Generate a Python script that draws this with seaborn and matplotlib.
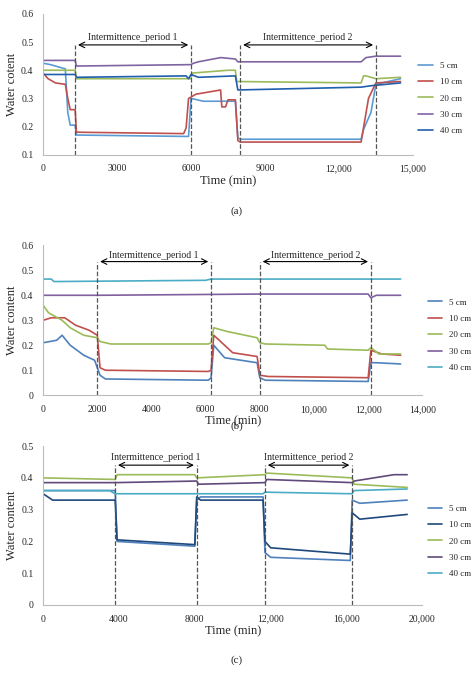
import numpy as np
import pandas as pd
import matplotlib
matplotlib.use("Agg")
import matplotlib.pyplot as plt
import seaborn as sns

depths = ["5 cm", "10 cm", "20 cm", "30 cm", "40 cm"]

# panel (a)
a_t = {
    "5 cm": [0, 300, 900, 1000, 1100, 1300, 1350, 5800, 5900, 6000, 6500, 7500, 7800, 7900, 8000, 12900, 13000, 13300, 13500, 14500],
    "10 cm": [0, 200, 500, 900, 1000, 1100, 1300, 1350, 5700, 5800, 5900, 6000, 6200, 7200, 7250, 7400, 7500, 7800, 7900, 8000, 12900, 13200, 13500, 14500],
    "20 cm": [0, 1300, 1350, 6000, 6050, 7500, 7800, 7850, 12900, 13000, 13100, 13500, 14500],
    "30 cm": [0, 1300, 1350, 6000, 6100, 6300, 7200, 7800, 7900, 12900, 13100, 13500, 14500],
    "40 cm": [0, 1300, 1350, 5800, 5900, 6000, 6300, 7800, 7900, 12900, 13300, 14500],
}
a_v = {
    "5 cm": [0.425, 0.42, 0.405, 0.25, 0.205, 0.205, 0.17, 0.165, 0.165, 0.30, 0.29, 0.29, 0.29, 0.16, 0.155, 0.155, 0.19, 0.25, 0.35, 0.37],
    "10 cm": [0.39, 0.37, 0.355, 0.35, 0.30, 0.26, 0.26, 0.18, 0.175, 0.195, 0.30, 0.305, 0.315, 0.33, 0.27, 0.27, 0.295, 0.295, 0.15, 0.145, 0.145, 0.30, 0.355, 0.36],
    "20 cm": [0.40, 0.40, 0.37, 0.37, 0.39, 0.40, 0.40, 0.36, 0.355, 0.38, 0.38, 0.37, 0.375],
    "30 cm": [0.435, 0.435, 0.415, 0.42, 0.425, 0.43, 0.445, 0.44, 0.43, 0.43, 0.445, 0.45, 0.45],
    "40 cm": [0.385, 0.385, 0.375, 0.38, 0.37, 0.385, 0.375, 0.38, 0.33, 0.34, 0.345, 0.355],
}
a_periods = [(1300, 6000), (8000, 13500)]

# panel (b)
b_t = {
    "5 cm": [0, 500, 700, 1000, 1500, 1900, 2100, 2300, 6100, 6200, 6300, 6700, 7900, 8000, 8200, 12000, 12100, 12300, 13200],
    "10 cm": [0, 300, 800, 1200, 1700, 2000, 2100, 2300, 6100, 6200, 6300, 7000, 7900, 8000, 8300, 12000, 12100, 12500, 13200],
    "20 cm": [0, 200, 700, 1000, 1500, 2000, 2100, 2500, 6100, 6200, 6300, 6800, 7900, 8000, 8200, 10400, 10500, 12000, 12100, 12400, 13200],
    "30 cm": [0, 1000, 2000, 8000, 12000, 12100, 12300, 13200],
    "40 cm": [0, 300, 400, 6000, 6200, 13200],
}
b_v = {
    "5 cm": [0.21, 0.22, 0.24, 0.20, 0.16, 0.14, 0.08, 0.065, 0.06, 0.07, 0.20, 0.15, 0.13, 0.07, 0.06, 0.055, 0.13, 0.13, 0.125],
    "10 cm": [0.30, 0.31, 0.31, 0.28, 0.26, 0.24, 0.11, 0.10, 0.095, 0.10, 0.24, 0.17, 0.155, 0.08, 0.075, 0.07, 0.18, 0.165, 0.16],
    "20 cm": [0.36, 0.33, 0.30, 0.27, 0.24, 0.23, 0.215, 0.205, 0.205, 0.21, 0.27, 0.255, 0.23, 0.21, 0.205, 0.20, 0.185, 0.18, 0.19, 0.165, 0.165],
    "30 cm": [0.40, 0.40, 0.40, 0.405, 0.405, 0.39, 0.40, 0.40],
    "40 cm": [0.465, 0.465, 0.455, 0.46, 0.465, 0.465],
}
b_periods = [(2000, 6200), (8000, 12100)]

# panel (c)
c_t = {
    "5 cm": [0, 3800, 3900, 8000, 8100, 8300, 11600, 11700, 12000, 16200, 16300, 16700, 19200],
    "10 cm": [0, 500, 3800, 3900, 8000, 8100, 8300, 11600, 11700, 12000, 16200, 16300, 16700, 19200],
    "20 cm": [0, 3800, 3900, 8000, 8100, 11700, 11800, 16300, 16400, 19200],
    "30 cm": [0, 3800, 8100, 8200, 11700, 11800, 16300, 16400, 18500, 19200],
    "40 cm": [0, 3500, 3800, 11600, 11700, 16300, 16400, 19200],
}
c_v = {
    "5 cm": [0.36, 0.36, 0.20, 0.185, 0.33, 0.34, 0.34, 0.165, 0.15, 0.14, 0.33, 0.32, 0.33],
    "10 cm": [0.35, 0.33, 0.33, 0.205, 0.19, 0.34, 0.33, 0.33, 0.20, 0.18, 0.16, 0.29, 0.27, 0.285],
    "20 cm": [0.40, 0.395, 0.41, 0.41, 0.40, 0.41, 0.415, 0.40, 0.38, 0.37],
    "30 cm": [0.385, 0.385, 0.39, 0.38, 0.385, 0.395, 0.385, 0.39, 0.41, 0.41],
    "40 cm": [0.36, 0.36, 0.35, 0.35, 0.355, 0.35, 0.36, 0.365],
}
c_periods = [(3800, 8100), (11700, 16300)]

pal_a = ["#5B9BD5", "#C0504D", "#9BBB59", "#8064A2", "#1F5FAD"]
pal_b = ["#4F81BD", "#C0504D", "#9BBB59", "#7F5FA0", "#4BACC6"]
pal_c = ["#4F81BD", "#1F497D", "#9BBB59", "#604A7B", "#4BACC6"]

sns.set_style("white")
plt.rcParams["font.family"] = ["Liberation Serif", "DejaVu Serif"]

fig = plt.figure(figsize=(4.74, 6.97), dpi=100)


def panel(rect, ts, vs, pal, periods, xmax, xticks, xlabels, ymax, yticks,
          arrow_y, text_y, tag, tag_y, ylabel):
    ax = fig.add_axes(rect)
    rows = []
    for d in depths:
        for t, v in zip(ts[d], vs[d]):
            rows.append((t, v, d))
    df = pd.DataFrame(rows, columns=["t", "v", "depth"])
    sns.lineplot(data=df, x="t", y="v", hue="depth", hue_order=depths,
                 palette=pal, estimator=None, sort=False, lw=1.2, ax=ax)
    for p, (s, e) in enumerate(periods):
        for xx in (s, e):
            ax.plot([xx, xx], [yticks[0], arrow_y], ls="--", color="#555555", lw=0.9)
        ax.annotate("", xy=(s, arrow_y), xytext=(e, arrow_y),
                    arrowprops=dict(arrowstyle="<->", color="black", lw=0.8))
        ax.text((s + e) / 2, text_y, f"Intermittence_period {p + 1}",
                ha="center", va="center", fontsize=7)
    ax.set_xlim(0, xmax)
    ax.set_ylim(yticks[0], ymax)
    ax.set_xticks(xticks)
    ax.set_xticklabels(xlabels, fontsize=7)
    ax.set_yticks(yticks)
    ax.set_yticklabels([f"{y:g}" for y in yticks], fontsize=7)
    ax.set_xlabel("Time (min)", fontsize=9, labelpad=1)
    ax.set_ylabel(ylabel, fontsize=9, labelpad=2)
    for s in ("top", "right"):
        ax.spines[s].set_visible(False)
    for s in ("left", "bottom"):
        ax.spines[s].set_color("#BBBBBB")
    ax.legend(loc="center left", bbox_to_anchor=(1.0, 0.4), frameon=False,
              fontsize=6.5, handlelength=1.6, labelspacing=0.9, borderaxespad=0.2)
    fig.text(0.5, 1 - tag_y / 697, tag, ha="center", va="center", fontsize=8)
    return ax


panel([0.091, 0.778, 0.78, 0.202], a_t, a_v, pal_a, a_periods, 15000,
      [0, 3000, 6000, 9000, 12000, 15000], ["0", "3000", "6000", "9000", "12,000", "15,000"],
      0.6, [0.1, 0.2, 0.3, 0.4, 0.5, 0.6], 0.49, 0.515, "(a)", 211, "Water cotent")
panel([0.091, 0.433, 0.80, 0.215], b_t, b_v, pal_b, b_periods, 14000,
      [0, 2000, 4000, 6000, 8000, 10000, 12000, 14000],
      ["0", "2000", "4000", "6000", "8000", "10,000", "12,000", "14,000"],
      0.6, [0, 0.1, 0.2, 0.3, 0.4, 0.5, 0.6], 0.535, 0.56, "(b)", 426, "Water content")
panel([0.091, 0.132, 0.80, 0.228], c_t, c_v, pal_c, c_periods, 20000,
      [0, 4000, 8000, 12000, 16000, 20000], ["0", "4000", "8000", "12,000", "16,000", "20,000"],
      0.5, [0, 0.1, 0.2, 0.3, 0.4, 0.5], 0.44, 0.465, "(c)", 660, "Water content")

fig.savefig("out.png", dpi=100)
